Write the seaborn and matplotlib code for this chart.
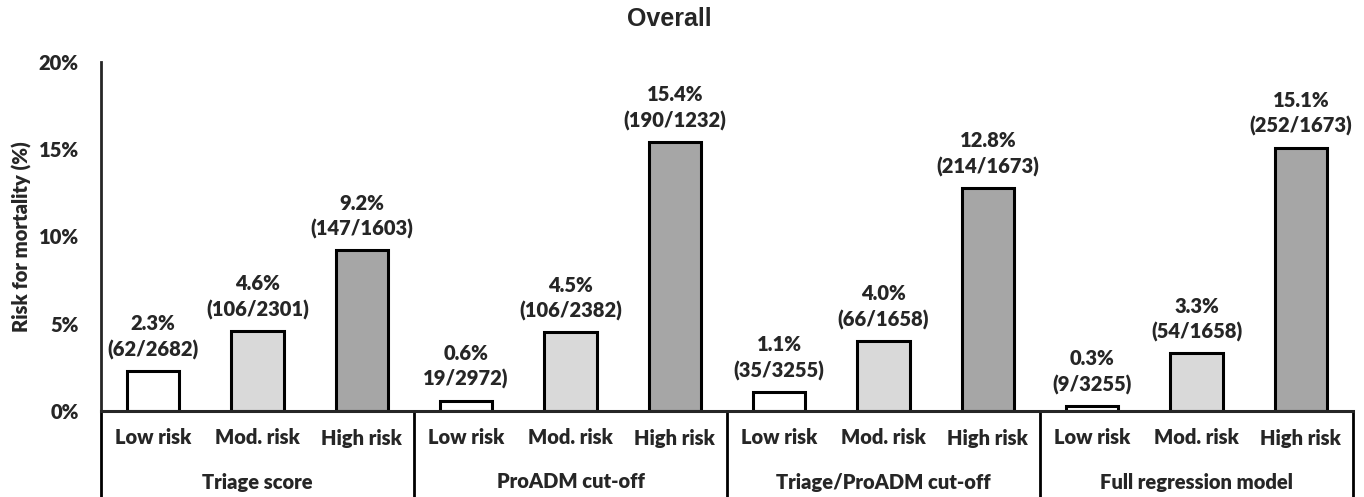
import matplotlib
matplotlib.use('Agg')
import matplotlib.pyplot as plt
import matplotlib.transforms as mtransforms
import pandas as pd
import seaborn as sns

# Data
groups = ['Triage score', 'ProADM cut-off', 'Triage/ProADM cut-off', 'Full regression model']
levels = ['Low risk', 'Mod. risk', 'High risk']
risk = [2.3, 4.6, 9.2,
        0.6, 4.5, 15.4,
        1.1, 4.0, 12.8,
        0.3, 3.3, 15.1]
counts = ['(62/2682)', '(106/2301)', '(147/1603)',
          '19/2972)', '(106/2382)', '(190/1232)',
          '(35/3255)', '(66/1658)', '(214/1673)',
          '(9/3255)', '(54/1658)', '(252/1673)']
level_colors = {'Low risk': '#ffffff', 'Mod. risk': '#d9d9d9', 'High risk': '#a6a6a6'}

df = pd.DataFrame({
    'bar': [f'{g}|{l}' for g in groups for l in levels],
    'group': [g for g in groups for l in levels],
    'level': [l for g in groups for l in levels],
    'risk': risk,
    'counts': counts,
})

sns.set_style('white')
plt.rcParams['font.family'] = ['Lato', 'DejaVu Sans']
FS = 14.5
FW = 'heavy'

W, H = 1364, 497
fig = plt.figure(figsize=(W / 100, H / 100), dpi=100)
ax = fig.add_axes([101 / W, (H - 411) / H, (1353 - 101) / W, (411 - 62) / H])

sns.barplot(data=df, x='bar', y='risk', hue='level', palette=level_colors,
            order=df['bar'], hue_order=levels, dodge=False, legend=False,
            width=0.5, edgecolor='black', linewidth=2.2, ax=ax)

ax.set_xlim(-0.5, len(df) - 0.5)
ax.set_ylim(0, 20)
ax.set_yticks([0, 5, 10, 15, 20])
ax.set_yticklabels(['0%', '5%', '10%', '15%', '20%'], fontsize=FS, fontweight=FW)
ax.tick_params(axis='y', length=0, pad=16)
ax.set_xticks([])
ax.set_xlabel('')
ax.set_ylabel('Risk for mortality (%)', fontsize=FS, fontweight=FW, va='center')
ax.yaxis.set_label_coords(-(101 - 22) / (1353 - 101), 0.5)

for side in ['top', 'right']:
    ax.spines[side].set_visible(False)
ax.spines['left'].set_linewidth(2)
ax.spines['bottom'].set_linewidth(2.2)
ax.spines['bottom'].set_zorder(5)

# value labels above each bar
for i, row in df.iterrows():
    ax.annotate(f"{row['risk']:.1f}%\n{row['counts']}", (i, row['risk']),
                xytext=(0, 8), textcoords='offset points', ha='center', va='bottom',
                fontsize=FS, fontweight=FW, linespacing=1.4)

# multi-level category axis
trans = mtransforms.blended_transform_factory(ax.transData, ax.transAxes)
ax_h = 411 - 62
y_level = -(438 - 411) / ax_h
y_group = -(482 - 411) / ax_h
y_bottom = -(497 - 411) / ax_h
for i, row in df.iterrows():
    ax.text(i, y_level, row['level'], transform=trans, ha='center', va='center',
            fontsize=FS, fontweight=FW)
for k, g in enumerate(groups):
    ax.text(3 * k + 1, y_group, g, transform=trans, ha='center', va='center',
            fontsize=FS, fontweight=FW)
for k in range(len(groups) + 1):
    ax.plot([3 * k - 0.5, 3 * k - 0.5], [0, y_bottom], transform=trans,
            color='black', lw=2, clip_on=False)

fig.text(669 / W, 1 - 19 / H, 'Overall', ha='center', va='center',
         fontsize=18, fontweight='bold', family=['Liberation Sans', 'DejaVu Sans'])

fig.savefig('out.png', dpi=100)
